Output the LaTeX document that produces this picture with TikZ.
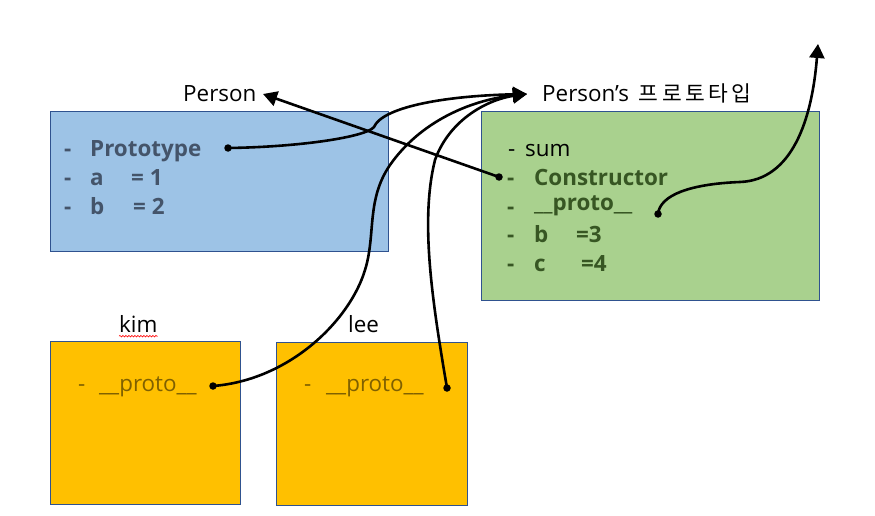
\documentclass[tikz,border=0pt]{standalone}
\usepackage{fontspec}
\setmainfont{Open Sans}
\newfontfamily\krfont[LetterSpace=16]{Noto Sans CJK KR}
\usetikzlibrary{arrows.meta,decorations.pathmorphing}
\definecolor{bluefill}{HTML}{9DC3E6}
\definecolor{boxline}{HTML}{2F528F}
\definecolor{greenfill}{HTML}{A9D18E}
\definecolor{orangefill}{HTML}{FFC000}
\definecolor{slate}{HTML}{44546A}
\definecolor{dkgreen}{HTML}{375623}
\definecolor{dkgold}{HTML}{7F6000}
\begin{document}
\begin{tikzpicture}[x=1pt,y=-1pt,
  box/.style={draw=boxline, line width=0.9pt, anchor=north west, inner sep=0pt},
  txt/.style={anchor=base west, inner sep=0pt, font=\fontsize{22.4}{26}\selectfont},
  btxt/.style={txt, font=\fontsize{22.4}{26}\selectfont\bfseries},
  lbl/.style={anchor=base west, inner sep=0pt, font=\fontsize{22.4}{26}\selectfont},
  conn/.style={line width=2.6pt, black},
  arr/.style={conn, -{Triangle[length=14pt,width=15pt]}},
  dot/.style={circle, fill=black, inner sep=0pt, minimum size=7.5pt}
]
\useasboundingbox (0,0) rectangle (875,516);

% boxes
\node[box, fill=bluefill, minimum width=338pt, minimum height=140pt] (protoBox) at (50,111) {};
\node[box, fill=greenfill, minimum width=338pt, minimum height=189pt] (pprotoBox) at (481,111) {};
\node[box, fill=orangefill, minimum width=190pt, minimum height=163pt] (kimBox) at (50,341) {};
\node[box, fill=orangefill, minimum width=191pt, minimum height=163pt] (leeBox) at (276,342) {};

% labels
\node[lbl] (personLbl) at (183,102) {Person};
\node[lbl] (pprotoLbl) at (542,102) {Person’s\kern 10pt{\fontsize{21.5}{26}\krfont 프로토타입}};
\node[lbl] (kimLbl) at (119,332) {kim};
\node[lbl] (leeLbl) at (348,332) {lee};
\draw[red, line width=0.6pt, decorate, decoration={snake, amplitude=0.8pt, segment length=3pt}]
  ([yshift=-4pt]kimLbl.south west) -- ([yshift=-4pt]kimLbl.south east);

% blue box text
\begin{scope}[every node/.append style={text=slate}]
\node[btxt] (bd1) at (64,157) {-};
\node[btxt] (bt1) at (90,157) {Prototype};
\node[btxt] (bd2) at (64,185) {-};
\node[btxt] (bt2) at (90,185) {a};
\node[btxt] (bv2) at (131,185) {= 1};
\node[btxt] (bd3) at (64,214) {-};
\node[btxt] (bt3) at (90,214) {b};
\node[btxt] (bv3) at (133,214) {= 2};
\end{scope}

% green box text
\node[txt] (gd0) at (508,157) {-};
\node[txt] (gt0) at (525,157) {sum};
\begin{scope}[every node/.append style={text=dkgreen}]
\node[btxt] (gd1) at (507,185) {-};
\node[btxt] (gt1) at (534,185) {Constructor};
\node[btxt] (gd2) at (507,214) {-};
\node[btxt] (gt2) at (534,210) {\_\_proto\_\_};
\node[btxt] (gd3) at (507,242) {-};
\node[btxt] (gt3) at (534,242) {b};
\node[btxt] (gv3) at (576,242) {=3};
\node[btxt] (gd4) at (507,271) {-};
\node[btxt] (gt4) at (534,271) {c};
\node[btxt] (gv4) at (581,271) {=4};
\end{scope}

% instance text
\begin{scope}[every node/.append style={text=dkgold}]
\node[txt] (kd) at (78,391) {-};
\node[txt] (kt) at (99,391) {\_\_proto\_\_};
\node[txt] (ld) at (304,391) {-};
\node[txt] (lt) at (326,391) {\_\_proto\_\_};
\end{scope}

% dots
\node[dot] (dProto) at (228,148) {};
\node[dot] (dCons) at (499,177) {};
\node[dot] (dGproto) at (658,214) {};
\node[dot] (dKim) at (213,386) {};
\node[dot] (dLee) at (447,388) {};

% arrow end points
\coordinate (tipPerson) at (263,94);
\coordinate (tipProto) at (527,94);
\coordinate (tipTop) at (818,44);

% connectors
\draw[arr] (dCons.center) -- (tipPerson);
\draw[arr] (dProto.center) .. controls (300,147) and (366,137) .. (374,127)
  .. controls (382,108) and (440,96) .. (tipProto);
\draw[arr] (dKim.center) .. controls (290,380) and (350,320) .. (365,270)
  .. controls (376,235) and (366,200) .. (390,165)
  .. controls (420,122) and (470,100) .. (tipProto);
\draw[arr] (dLee.center) .. controls (432,300) and (420,220) .. (435,160)
  .. controls (450,118) and (490,99) .. (tipProto);
\draw[arr] (dGproto.center) .. controls (660,195) and (690,184) .. (740,182)
  .. controls (792,180) and (812,120) .. (tipTop);
\end{tikzpicture}
\end{document}
